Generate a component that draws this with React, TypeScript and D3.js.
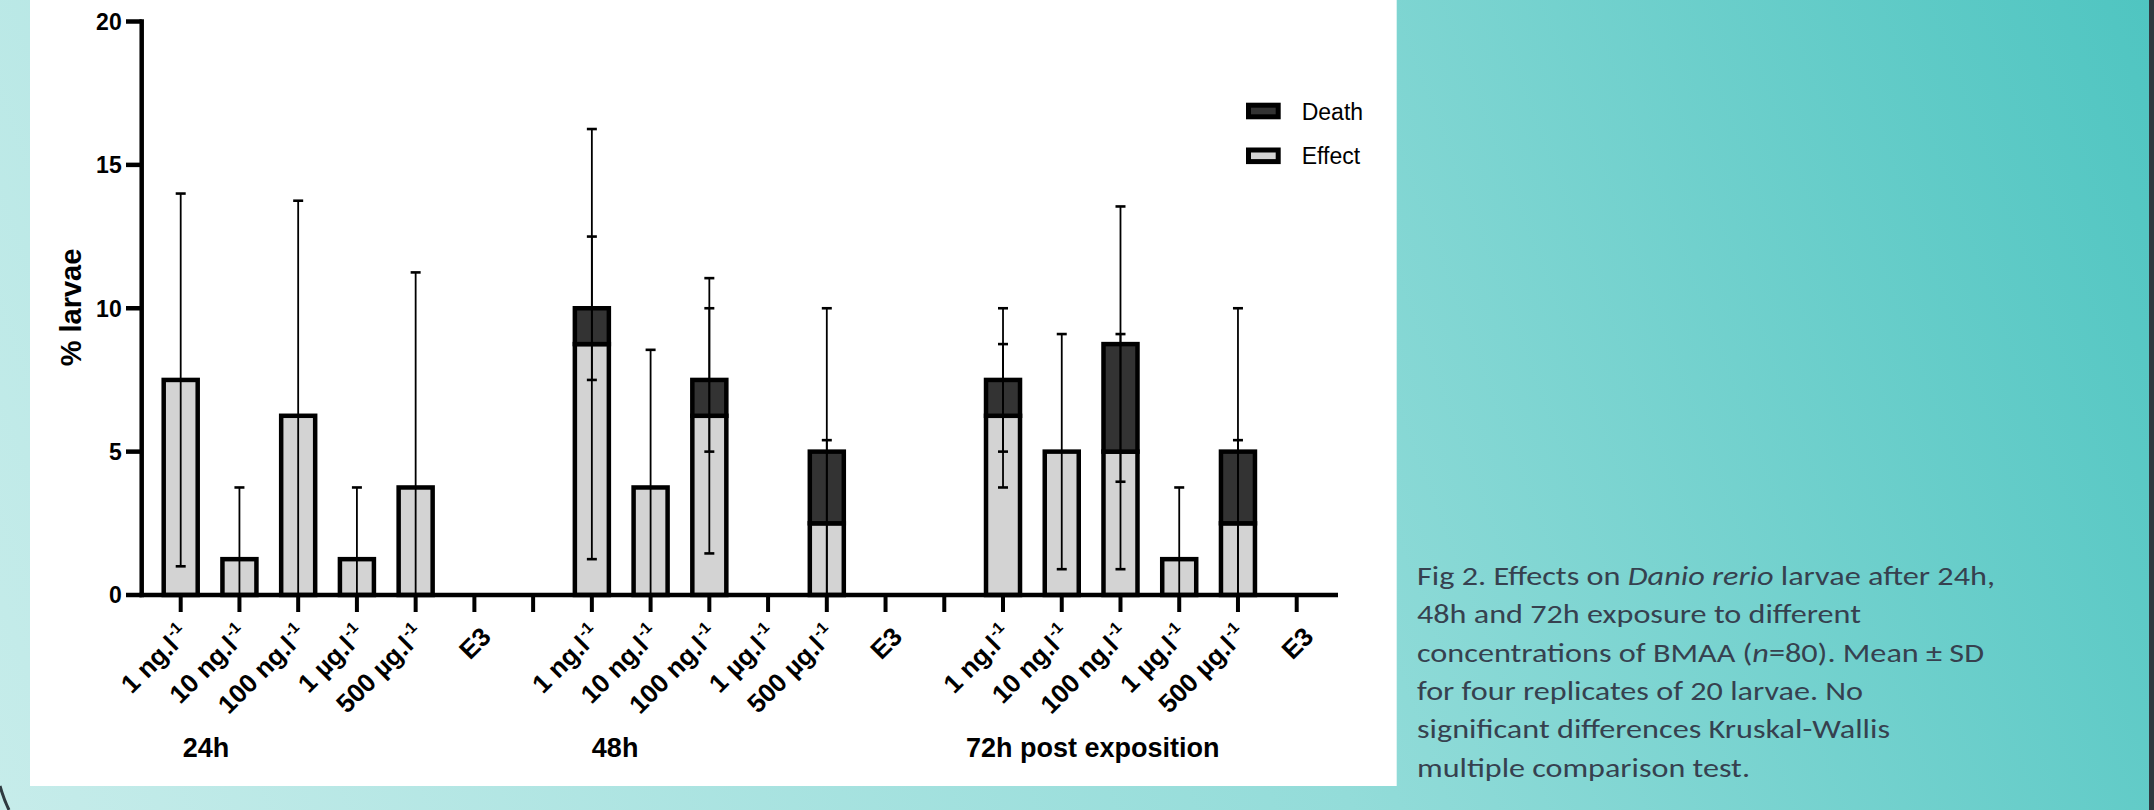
import React from "react";
import * as d3 from "d3";

// ---------- data ----------
const groups = ["24h", "48h", "72h post exposition"];
const concentrations = ["1 ng.l", "10 ng.l", "100 ng.l", "1 µg.l", "500 µg.l", "E3"];
const unitSuperscript = ["-1", "-1", "-1", "-1", "-1", ""];

const effectMean = [
  [7.5, 1.25, 6.25, 1.25, 3.75, 0],
  [8.75, 3.75, 6.25, 0, 2.5, 0],
  [6.25, 5, 5, 1.25, 2.5, 0],
];
const effectSD = [
  [6.5, 2.5, 7.5, 2.5, 7.5, 0],
  [7.5, 4.8, 4.8, 0, 2.9, 0],
  [2.5, 4.1, 4.1, 2.5, 2.9, 0],
];
const deathMean = [
  [0, 0, 0, 0, 0, 0],
  [1.25, 0, 1.25, 0, 2.5, 0],
  [1.25, 0, 3.75, 0, 2.5, 0],
];
const deathSD = [
  [0, 0, 0, 0, 0, 0],
  [2.5, 0, 2.5, 0, 5, 0],
  [2.5, 0, 4.8, 0, 5, 0],
];

const yTicks = [0, 5, 10, 15, 20];
const yTitle = "% larvae";
const legendNames = ["Death", "Effect"];

const captionLines: [string, boolean][][] = [
  [["Fig 2. Effects on ", false], ["Danio rerio", true], [" larvae after 24h,", false]],
  [["48h and 72h exposure to different", false]],
  [["concentrations of BMAA (", false], ["n", true], ["=80). Mean ± SD", false]],
  [["for four replicates of 20 larvae. No", false]],
  [["significant differences Kruskal-Wallis", false]],
  [["multiple comparison test.", false]],
];

// ---------- layout ----------
const W = 2154;
const H = 810;
const SLOTS = 20;
const slotsPerGroup = 7;
const EFFECT_FILL = "#d3d3d3";
const DEATH_FILL = "#333333";
const captionWidths = [578, 444, 567, 446, 473, 333];
const groupLabelOffset = [2, 0, -37];

export default function App() {
  const x = d3.scalePoint<number>().domain(d3.range(SLOTS)).range([180.7, 1296.7]);
  const y = d3.scaleLinear().domain([0, 20]).range([595, 21.5]);
  const barW = 34;
  const axisX = 141.7;
  const axisEnd = 1338;
  const y0 = y(0);

  type Bar = { s: number; e: number; d: number; esd: number; dsd: number; gi: number; ci: number };
  const bars: Bar[] = [];
  groups.forEach((g, gi) =>
    concentrations.forEach((c, ci) =>
      bars.push({
        s: gi * slotsPerGroup + ci,
        e: effectMean[gi][ci],
        d: deathMean[gi][ci],
        esd: effectSD[gi][ci],
        dsd: deathSD[gi][ci],
        gi,
        ci,
      })
    )
  );

  const errBar = (cx: number, mean: number, sd: number, key: string) => {
    if (sd <= 0) return null;
    const lo = mean - sd;
    const hi = mean + sd;
    const capW = 10;
    return (
      <g key={key} stroke="#000">
        <line x1={cx} x2={cx} y1={y(Math.max(0, lo))} y2={y(hi)} strokeWidth={1.8} />
        <line x1={cx - capW / 2} x2={cx + capW / 2} y1={y(hi)} y2={y(hi)} strokeWidth={2.6} />
        {lo > 0.05 && (
          <line x1={cx - capW / 2} x2={cx + capW / 2} y1={y(lo)} y2={y(lo)} strokeWidth={2.6} />
        )}
      </g>
    );
  };

  return (
    <svg
      width={W}
      height={H}
      style={{ position: "fixed", left: 0, top: 0 }}
      fontFamily="'Liberation Sans', Arial, sans-serif"
    >
      <defs>
        <linearGradient id="bg" gradientUnits="userSpaceOnUse" x1={0} y1={H} x2={W} y2={0}>
          <stop offset="0" stopColor="#c6ecea" />
          <stop offset="0.55" stopColor="#93dcd9" />
          <stop offset="1" stopColor="#4fc5c1" />
        </linearGradient>
      </defs>
      <rect x={0} y={0} width={W} height={H} fill="url(#bg)" />
      <rect x={W - 5} y={0} width={5} height={H} fill="#2f3a40" />
      <path d="M0,786 Q4,800 9,810" fill="none" stroke="#2f3a40" strokeWidth={3} />

      {/* white panel */}
      <rect x={30} y={0} width={1366.7} height={786} fill="#ffffff" />

      {/* bars */}
      {bars.map((b) => {
        const cx = x(b.s)!;
        return (
          <g key={"bar" + b.s} stroke="#000" strokeWidth={4.5}>
            {b.e > 0 && (
              <rect x={cx - barW / 2} y={y(b.e)} width={barW} height={y0 - y(b.e)} fill={EFFECT_FILL} />
            )}
            {b.d > 0 && (
              <rect
                x={cx - barW / 2}
                y={y(b.e + b.d)}
                width={barW}
                height={y(b.e) - y(b.e + b.d)}
                fill={DEATH_FILL}
              />
            )}
          </g>
        );
      })}

      {/* error bars */}
      {bars.map((b) => {
        const cx = x(b.s)!;
        return (
          <g key={"err" + b.s}>
            {b.e > 0 && errBar(cx, b.e, b.esd, "e")}
            {b.d > 0 && errBar(cx, b.e + b.d, b.dsd, "d")}
          </g>
        );
      })}

      {/* y axis */}
      <line x1={axisX} x2={axisX} y1={y(20) - 2.25} y2={y0 + 2.25} stroke="#000" strokeWidth={4.5} />
      {yTicks.map((t) => (
        <g key={"yt" + t}>
          <line x1={126} x2={axisX} y1={y(t)} y2={y(t)} stroke="#000" strokeWidth={4.5} />
          <text x={121.7} y={y(t)} dy="0.36em" textAnchor="end" fontSize={23} fontWeight="bold">
            {t}
          </text>
        </g>
      ))}
      <text
        transform={`translate(81,307.5) rotate(-90)`}
        textAnchor="middle"
        fontSize={29}
        fontWeight="bold"
      >
        {yTitle}
      </text>

      {/* x axis */}
      <line x1={axisX - 2.25} x2={axisEnd} y1={y0} y2={y0} stroke="#000" strokeWidth={4.5} />
      {d3.range(SLOTS).map((s) => (
        <line key={"xt" + s} x1={x(s)!} x2={x(s)!} y1={y0} y2={612} stroke="#000" strokeWidth={4} />
      ))}
      {bars.map((b) => {
        const hasSup = unitSuperscript[b.ci] !== "";
        const ax = x(b.s)! + (hasSup ? 9.9 : 18.2);
        const ay = hasSup ? 636 : 638.2;
        return (
          <text
            key={"xl" + b.s}
            transform={`translate(${ax},${ay}) rotate(-45)`}
            textAnchor="end"
            fontSize={26}
            fontWeight="bold"
          >
            {concentrations[b.ci]}
            {hasSup && (
              <tspan fontSize={16} dy={-11} dx={1}>
                {unitSuperscript[b.ci]}
              </tspan>
            )}
          </text>
        );
      })}

      {/* group labels */}
      {groups.map((g, gi) => (
        <text
          key={"g" + gi}
          x={x(gi * slotsPerGroup)! + groupLabelOffset[gi]}
          y={757}
          fontSize={27}
          fontWeight="bold"
        >
          {g}
        </text>
      ))}

      {/* legend */}
      {legendNames.map((n, i) => (
        <g key={"lg" + n}>
          <rect
            x={1248.5}
            y={105.2 + i * 44.8}
            width={29.7}
            height={11.6}
            fill={i === 0 ? DEATH_FILL : EFFECT_FILL}
            stroke="#000"
            strokeWidth={5}
          />
          <text x={1301.7} y={120 + i * 44.3} fontSize={23}>
            {n}
          </text>
        </g>
      ))}

      {/* caption */}
      {captionLines.map((line, i) => (
        <text
          key={"cap" + i}
          x={1417}
          y={585 + i * 38.3}
          fontSize={27}
          fill="#36414f"
          fontFamily="Carlito, Calibri, Lato, sans-serif"
          textLength={captionWidths[i]}
          lengthAdjust="spacingAndGlyphs"
        >
          {line.map(([t, it], j) => (
            <tspan key={j} fontStyle={it ? "italic" : "normal"}>
              {t}
            </tspan>
          ))}
        </text>
      ))}
    </svg>
  );
}
